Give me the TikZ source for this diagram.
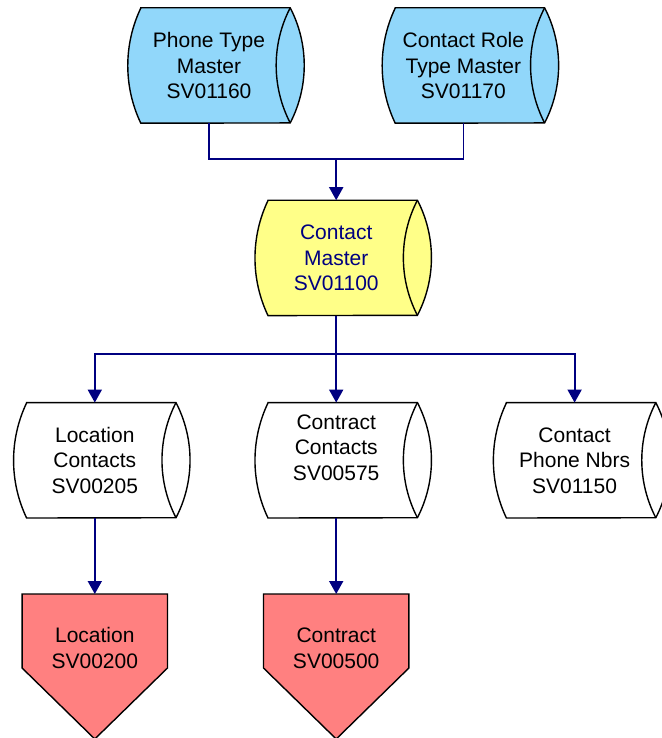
\documentclass[tikz,border=0pt]{standalone}
\usepackage{fontspec}
\setmainfont{Liberation Sans}
\usetikzlibrary{positioning,arrows.meta,calc,backgrounds}
\definecolor{storeblue}{RGB}{145,215,250}
\definecolor{storeyellow}{RGB}{255,255,136}
\definecolor{tablered}{RGB}{255,128,128}
\definecolor{linknavy}{RGB}{0,0,128}
\tikzset{
  store/.style   = {align=center, minimum width=162pt, minimum height=115pt, inner sep=0pt, font=\fontsize{21}{25.5}\selectfont},
  tbl/.style     = {align=center, minimum width=145pt, minimum height=108pt, inner sep=0pt, font=\fontsize{21}{25.5}\selectfont},
  outline/.style = {draw=black, line width=1.4pt},
  link/.style    = {draw=linknavy, line width=1.8pt},
  flow/.style    = {link, -{Triangle[length=13pt, width=14pt]}},
}

\begin{document}
\begin{tikzpicture}
  \useasboundingbox (0,0) rectangle (661pt,-738pt);
  % masters
  \node[store] (phone) at (209pt,-65.5pt) {Phone Type\\Master\\SV01160};
  \node[store, right=92pt of phone] (role) {Contact Role\\Type Master\\SV01170};
  \coordinate (topmid) at ($(phone.south)!.5!(role.south)$);
  \node[store, below=77pt of topmid, text=linknavy] (master) {Contact\\Master\\SV01100};
  % contact tables
  \node[store, below=87pt of master] (concon) {Contract\\Contacts\\SV00575\\~};
  \node[store, left=79pt of concon] (loccon) {Location\\Contacts\\SV00205};
  \node[store, right=76pt of concon] (phonenbr) {Contact\\Phone Nbrs\\SV01150};
  % parents
  \node[tbl, below=76pt of loccon] (location) {Location\\SV00200};
  \node[tbl, below=76pt of concon] (contract) {Contract\\SV00500};

  \begin{scope}[on background layer]
    \foreach \n/\c in {phone/storeblue, role/storeblue, master/storeyellow, loccon/white, concon/white, phonenbr/white} {
      \draw[outline, fill=\c] ([xshift=13pt]\n.north west) -- (\n.north east)
        arc[start angle=27.4, end angle=-27.4, radius=125.1pt]
        -- ([xshift=13pt]\n.south west)
        arc[start angle=205.5, end angle=154.5, radius=133.7pt] -- cycle;
      \draw[outline] (\n.north east) arc[start angle=152.6, end angle=207.4, radius=125.1pt];
    }
    \foreach \n in {location, contract}
      \draw[outline, fill=tablered] (\n.north west) -- (\n.north east) -- ++(0,-74pt)
        -- ([yshift=-145pt]\n.north) -- ([yshift=-74pt]\n.north west) -- cycle;
  \end{scope}

  \coordinate (topjoin) at ($(master.north)+(0,41pt)$);
  \coordinate (midjoin) at ($(master.south)+(0,-38pt)$);
  \draw[link] (phone.south) |- (topjoin) -| (role.south);
  \draw[flow] (topjoin) -- (master.north);
  \draw[link] (master.south) -- (midjoin);
  \draw[flow] (midjoin) -| (loccon.north);
  \draw[flow] (midjoin) -- (concon.north);
  \draw[flow] (midjoin) -| (phonenbr.north);
  \draw[flow] (loccon.south) -- (location.north);
  \draw[flow] (concon.south) -- (contract.north);
\end{tikzpicture}
\end{document}
